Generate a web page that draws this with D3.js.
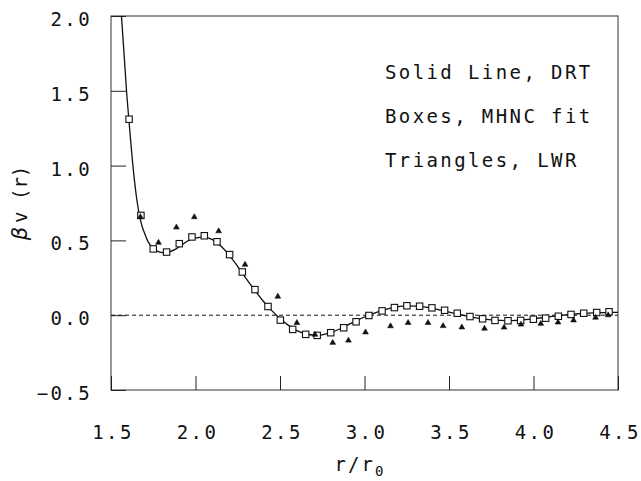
<!DOCTYPE html>
<html><head><meta charset="utf-8">
<script src="https://cdn.jsdelivr.net/npm/d3@7"></script>
<style>body{margin:0;background:#fff}svg{display:block}text{font-family:"DejaVu Sans Mono",monospace;fill:#111}</style>
</head><body>
<script>
const xTicks=[1.5,2.0,2.5,3.0,3.5,4.0,4.5];
const yTicks=[-0.5,0.0,0.5,1.0,1.5,2.0];
const legendLines=["Solid Line, DRT","Boxes, MHNC fit","Triangles, LWR"];
// DRT solid line
const lineX=[1.555,1.565,1.58,1.593,1.607,1.62,1.635,1.652,1.668,1.685,1.70,1.72,1.75,1.78,1.81,1.84,1.88,1.92,1.96,2.00,2.05,2.10,2.15,2.20,2.25,2.30,2.35,2.40,2.45,2.50,2.55,2.60,2.65,2.70,2.75,2.80,2.85,2.90,2.95,3.00,3.05,3.10,3.15,3.20,3.25,3.30,3.35,3.40,3.45,3.50,3.55,3.60,3.65,3.70,3.75,3.80,3.85,3.90,3.95,4.00,4.05,4.10,4.15,4.20,4.25,4.30,4.35,4.40,4.45,4.50];
const lineY=[2.12,1.95,1.70,1.48,1.29,1.12,0.94,0.78,0.67,0.59,0.545,0.49,0.445,0.425,0.418,0.422,0.44,0.47,0.50,0.515,0.522,0.505,0.462,0.40,0.325,0.245,0.168,0.095,0.032,-0.022,-0.068,-0.103,-0.124,-0.133,-0.131,-0.117,-0.094,-0.066,-0.038,-0.012,0.01,0.03,0.046,0.057,0.062,0.061,0.055,0.046,0.034,0.021,0.008,-0.005,-0.016,-0.025,-0.031,-0.035,-0.036,-0.034,-0.03,-0.024,-0.017,-0.01,-0.003,0.003,0.008,0.012,0.015,0.017,0.018,0.019];
// MHNC fit boxes
const boxX=[1.607,1.677,1.750,1.829,1.904,1.979,2.052,2.127,2.202,2.277,2.352,2.429,2.502,2.575,2.652,2.720,2.800,2.877,2.950,3.026,3.104,3.177,3.251,3.326,3.399,3.474,3.549,3.624,3.699,3.772,3.849,3.924,3.999,4.072,4.147,4.222,4.297,4.374,4.447];
const boxY=[1.310,0.667,0.443,0.422,0.478,0.523,0.531,0.491,0.405,0.289,0.171,0.058,-0.033,-0.095,-0.128,-0.135,-0.117,-0.084,-0.044,-0.002,0.029,0.051,0.063,0.060,0.049,0.033,0.013,-0.009,-0.024,-0.035,-0.037,-0.035,-0.027,-0.020,-0.007,0.005,0.013,0.018,0.023];
// LWR triangles
const triX=[1.674,1.781,1.887,1.993,2.137,2.293,2.487,2.600,2.707,2.812,2.905,3.006,3.154,3.258,3.376,3.465,3.576,3.710,3.826,3.926,4.043,4.145,4.237,4.367,4.442];
const triY=[0.657,0.485,0.587,0.656,0.562,0.338,0.125,-0.051,-0.130,-0.184,-0.169,-0.114,-0.073,-0.051,-0.051,-0.072,-0.081,-0.089,-0.082,-0.062,-0.057,-0.048,-0.034,-0.016,0.000];

const W=641,H=481,L=111,R=618,T=16,B=390;
const svg=d3.select("body").append("svg").attr("width",W).attr("height",H);
const x=d3.scaleLinear().domain([1.5,4.5]).range([L,R]);
const y=d3.scaleLinear().domain([-0.5,2.0]).range([B,T]);

svg.append("defs").append("clipPath").attr("id","clip").append("rect").attr("x",L).attr("y",T).attr("width",R-L).attr("height",B-T);

// frame
svg.append("rect").attr("x",L).attr("y",T).attr("width",R-L).attr("height",B-T).attr("fill","none").attr("stroke","#555").attr("stroke-width",1.2);

// axes with inward ticks
const xAxis=d3.axisTop(x).tickValues(xTicks).tickSize(14).tickFormat("");
const gx=svg.append("g").attr("transform",`translate(0,${B})`).call(xAxis);
gx.select(".domain").remove();
gx.selectAll("line").attr("stroke","#222");
const yAxis=d3.axisRight(y).tickValues(yTicks).tickSize(15).tickFormat("");
const gy=svg.append("g").attr("transform",`translate(${L},0)`).call(yAxis);
gy.select(".domain").remove();
gy.selectAll("line").attr("stroke","#222");

const fmt=d=>d.toFixed(1).replace("-","\u2212");
// tick labels
svg.append("g").selectAll("text").data(xTicks).join("text")
  .attr("x",d=>x(d)+2).attr("y",439).attr("text-anchor","middle")
  .attr("font-size",19).attr("letter-spacing",2.4).text(fmt);
svg.append("g").selectAll("text").data(yTicks).join("text")
  .attr("x",92).attr("y",d=>y(d)+10).attr("text-anchor","end")
  .attr("font-size",19).attr("letter-spacing",2.4).text(fmt);

// axis titles
const xt=svg.append("text").attr("x",360).attr("y",471).attr("text-anchor","middle").attr("font-size",19).attr("letter-spacing",2);
xt.append("tspan").text("r/r");
xt.append("tspan").attr("font-size",14).attr("dy",5).text("0");
const yt=svg.append("text").attr("transform","translate(27,203) rotate(-90)").attr("text-anchor","middle").attr("font-size",19);
yt.append("tspan").attr("font-family","DejaVu Sans").attr("font-style","italic").attr("font-size",21).text("β");
yt.append("tspan").attr("dx",4).text("v (r)");

// zero dashed line
svg.append("line").attr("x1",x(1.5)).attr("x2",x(4.5)).attr("y1",y(0)).attr("y2",y(0))
  .attr("stroke","#111").attr("stroke-width",1).attr("stroke-dasharray","4,3");

// DRT line
const lineData=lineX.map((v,i)=>[v,lineY[i]]);
svg.append("path").datum(lineData).attr("clip-path","url(#clip)")
  .attr("fill","none").attr("stroke","#111").attr("stroke-width",1.3)
  .attr("d",d3.line().x(d=>x(d[0])).y(d=>y(d[1])).curve(d3.curveCatmullRom));

// boxes
svg.append("g").selectAll("rect").data(boxX.map((v,i)=>[v,boxY[i]])).join("rect")
  .attr("x",d=>x(d[0])-3.2).attr("y",d=>y(d[1])-3.2).attr("width",6.4).attr("height",6.4)
  .attr("fill","#fff").attr("stroke","#111").attr("stroke-width",1.1);

// triangles
svg.append("g").selectAll("path").data(triX.map((v,i)=>[v,triY[i]])).join("path")
  .attr("transform",d=>`translate(${x(d[0])},${y(d[1])})`)
  .attr("d",d3.symbol(d3.symbolTriangle,14))
  .attr("fill","#111").attr("stroke","#111").attr("stroke-width",0.6);

// legend text
svg.append("g").selectAll("text").data(legendLines).join("text")
  .attr("x",385).attr("y",(d,i)=>79+i*44).attr("font-size",19).attr("letter-spacing",2.4).text(d=>d);
</script>
</body></html>
